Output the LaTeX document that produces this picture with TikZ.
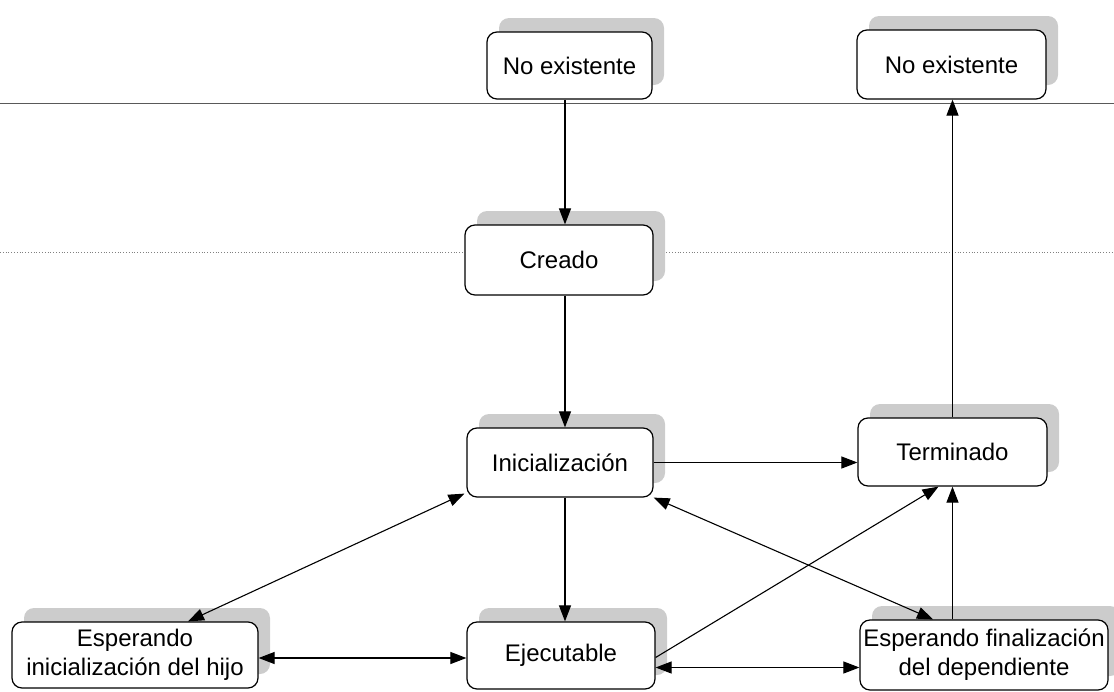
\documentclass[tikz,border=0pt]{standalone}
\usepackage{fontspec}
\setmainfont{Liberation Sans}
\usetikzlibrary{arrows.meta,shadows,calc}

\tikzset{
  state/.style={draw, rounded corners=10pt, fill=white, line width=1.2pt,
    align=center, inner sep=0pt, font=\fontsize{24}{29}\selectfont,
    drop shadow={shadow xshift=12pt, shadow yshift=14pt, fill=gray!40, opacity=1}},
  tip/.tip={Triangle[length=16pt,width=12pt]},
  arr/.style={-tip, line width=1.1pt},
  biarr/.style={tip-tip, line width=1.1pt},
  rule/.style={gray!70!black, line width=0.8pt},
  dotrule/.style={gray, dotted, line width=0.8pt}
}

\begin{document}
\begin{tikzpicture}[x=1pt, y=-1pt]
  \useasboundingbox (0,0) rectangle (1114,691);

  % separating rules
  \draw[rule] (0,103) -- (1114,103);
  \draw[dotrule] (0,252) -- (1114,252);

  % states
  \node[state, minimum width=165pt, minimum height=67pt] (ne1) at (569.5,65.5) {No existente};
  \node[state, minimum width=189pt, minimum height=69pt] (ne2) at (951.5,64.5) {No existente};
  \node[state, minimum width=188pt, minimum height=70pt] (cr) at (559,260) {Creado};
  \node[state, minimum width=186pt, minimum height=69pt] (in) at (560,462.5) {Inicialización};
  \node[state, minimum width=189pt, minimum height=68pt] (te) at (952.5,452) {Terminado};
  \node[state, minimum width=246pt, minimum height=66pt] (ei) at (135,655) {Esperando\\inicialización del hijo};
  \node[state, minimum width=188pt, minimum height=67pt] (ej) at (561,655.5) {Ejecutable};
  \node[state, minimum width=248pt, minimum height=70pt] (ef) at (984,655) {Esperando finalización\\del dependiente};

  % transitions
  \draw[arr] ([xshift=-4.5pt]ne1.south) -- ([xshift=6pt]cr.north);
  \draw[arr] ([xshift=6pt]cr.south) -- ([xshift=5pt]in.north);
  \draw[arr] ([xshift=5pt]in.south) -- ([xshift=4pt]ej.north);
  \draw[arr] (in.east) -- (in.east -| te.west);
  \draw[arr] (te.north) -- (te.north |- ne2.south);
  \draw[biarr] ([xshift=53pt]ei.north) -- ($(in.south west)+(-2,-4)$);
  \draw[biarr] ([yshift=-3pt]ei.east) -- ([yshift=-3pt]ei.east -| ej.west);
  \draw[biarr] ([yshift=-12pt]ej.east) -- ([yshift=-12pt]ej.east -| ef.west);
  \draw[arr] ([yshift=-2pt]ej.east) -- ([xshift=-14pt]te.south);
  \draw[arr] (ef.north -| te.south) -- (te.south);
  \draw[biarr] ([xshift=-51pt]ef.north) -- (in.south east);
\end{tikzpicture}
\end{document}
